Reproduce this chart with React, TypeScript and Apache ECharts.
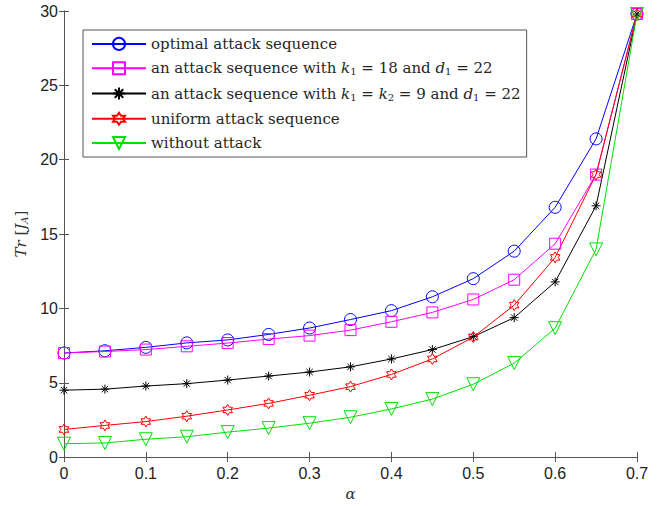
import React, { useEffect, useRef } from "react";
import * as echarts from "echarts";

const alpha = [0, 0.05, 0.1, 0.15, 0.2, 0.25, 0.3, 0.35, 0.4, 0.45, 0.5, 0.55, 0.6, 0.65, 0.7];
const optimal = [7.0, 7.15, 7.38, 7.68, 7.88, 8.25, 8.68, 9.25, 9.85, 10.78, 12.0, 13.85, 16.8, 21.4, 29.8];
const seqK18 = [7.0, 7.1, 7.23, 7.45, 7.67, 7.94, 8.17, 8.54, 9.1, 9.73, 10.6, 11.93, 14.35, 19.0, 29.8];
const seqK9 = [4.5, 4.57, 4.78, 4.94, 5.18, 5.45, 5.72, 6.07, 6.6, 7.23, 8.1, 9.38, 11.78, 16.9, 29.8];
const uniform = [1.86, 2.13, 2.39, 2.75, 3.17, 3.61, 4.16, 4.74, 5.56, 6.6, 8.07, 10.22, 13.43, 19.0, 29.8];
const noAttack = [0.9, 0.95, 1.2, 1.37, 1.68, 1.95, 2.28, 2.68, 3.24, 3.9, 4.9, 6.32, 8.67, 13.97, 29.8];

const names = [
  "optimal attack sequence",
  "an attack sequence with k1 = 18 and d1 = 22",
  "an attack sequence with k1 = k2 = 9 and d1 = 22",
  "uniform attack sequence",
  "without attack",
];

const hexagram =
  "path://M0,-1 L-0.289,-0.5 L-0.866,-0.5 L-0.577,0 L-0.866,0.5 L-0.289,0.5 L0,1 L0.289,0.5 L0.866,0.5 L0.577,0 L0.866,-0.5 L0.289,-0.5 Z";
const asterisk =
  "path://M0,-1 L0,1 M-1,0 L1,0 M-0.707,-0.707 L0.707,0.707 M-0.707,0.707 L0.707,-0.707";

export default function App() {
  const ref = useRef<HTMLDivElement>(null);
  useEffect(() => {
    if (!ref.current) return;
    const chart = echarts.init(ref.current, undefined, { renderer: "svg" });
    const mk = (vals: number[]) => alpha.map((a, i) => [a, vals[i]]);
    const serif = "'DejaVu Serif', serif";
    const txt = "#262626";
    const seriesDefs = [
      { name: names[0], data: optimal, color: "#0000ff", symbol: "circle", size: 12, rotate: 0 },
      { name: names[1], data: seqK18, color: "#ff00ff", symbol: "rect", size: 11, rotate: 0 },
      { name: names[2], data: seqK9, color: "#000000", symbol: asterisk, size: 9, rotate: 0 },
      { name: names[3], data: uniform, color: "#ff0000", symbol: hexagram, size: 11, rotate: 0 },
      { name: names[4], data: noAttack, color: "#00e000", symbol: "triangle", size: 13, rotate: 180 },
    ];
    const legendFmt = (n: string) => {
      if (n === names[1]) return "an attack sequence with {i|k}{s|1} = 18 and {i|d}{s|1} = 22";
      if (n === names[2]) return "an attack sequence with {i|k}{s|1} = {i|k}{s|2} = 9 and {i|d}{s|1} = 22";
      return n;
    };
    const axisLine = { show: true, lineStyle: { color: "#555", width: 1 } };
    const tick = { show: true, inside: true, length: 5, lineStyle: { color: "#555" } };
    chart.setOption({
      animation: false,
      backgroundColor: "#fff",
      grid: { left: 64, right: 25, top: 11, bottom: 44, show: false },
      legend: {
        orient: "vertical",
        left: 83,
        top: 30,
        itemWidth: 54,
        itemHeight: 15,
        itemGap: 9.3,
        padding: [6.4, 6, 6.4, 8],
        borderColor: "#555",
        borderWidth: 1,
        backgroundColor: "#fff",
        formatter: legendFmt,
        textStyle: {
          fontFamily: serif,
          fontSize: 15,
          color: txt,
          rich: {
            i: { fontFamily: serif, fontStyle: "italic", fontSize: 15, color: txt },
            s: { fontFamily: serif, fontSize: 10, color: txt, padding: [7, 0, 0, 0] },
          },
        },
        data: names,
      },
      xAxis: [
        {
          type: "value",
          min: 0,
          max: 0.7,
          interval: 0.1,
          name: "α",
          nameLocation: "middle",
          nameGap: 25,
          nameTextStyle: { fontFamily: serif, fontStyle: "italic", fontSize: 15, color: "#333" },
          axisLine,
          axisTick: tick,
          axisLabel: {
            fontFamily: "'Liberation Sans', Arial, sans-serif",
            fontSize: 16,
            color: "#222",
            margin: 8,
            formatter: (v: number) => String(Math.round(v * 10) / 10),
          },
          splitLine: { show: false },
        },
        {
          type: "value",
          position: "top",
          min: 0,
          max: 0.7,
          interval: 0.1,
          axisLine,
          axisTick: tick,
          axisLabel: { show: false },
          splitLine: { show: false },
        },
      ],
      yAxis: [
        {
          type: "value",
          min: 0,
          max: 30,
          interval: 5,
          name: "{i|Tr} [{i|J}{s|A}]",
          nameLocation: "middle",
          nameGap: 28,
          nameTextStyle: {
            fontFamily: serif,
            fontSize: 15,
            color: "#333",
            rich: {
              i: { fontFamily: serif, fontStyle: "italic", fontSize: 15, color: "#333" },
              s: { fontFamily: serif, fontStyle: "italic", fontSize: 10, color: "#333", padding: [6, 0, 0, 0] },
            },
          },
          axisLine,
          axisTick: tick,
          axisLabel: {
            fontFamily: "'Liberation Sans', Arial, sans-serif",
            fontSize: 16,
            color: "#222",
            margin: 6,
          },
          splitLine: { show: false },
        },
        {
          type: "value",
          position: "right",
          min: 0,
          max: 30,
          interval: 5,
          axisLine,
          axisTick: tick,
          axisLabel: { show: false },
          splitLine: { show: false },
        },
      ],
      series: seriesDefs.map((s) => ({
        type: "line",
        name: s.name,
        data: mk(s.data),
        xAxisIndex: 0,
        yAxisIndex: 0,
        symbol: s.symbol,
        symbolSize: s.size,
        symbolRotate: s.rotate,
        symbolKeepAspect: true,
        showAllSymbol: true,
        lineStyle: { color: s.color, width: 1 },
        itemStyle: { color: "transparent", borderColor: s.color, borderWidth: 1 },
        emphasis: { disabled: true },
      })),
    });
    return () => chart.dispose();
  }, []);
  return <div ref={ref} style={{ position: "fixed", left: 0, top: 0, width: 662, height: 506 }} />;
}
